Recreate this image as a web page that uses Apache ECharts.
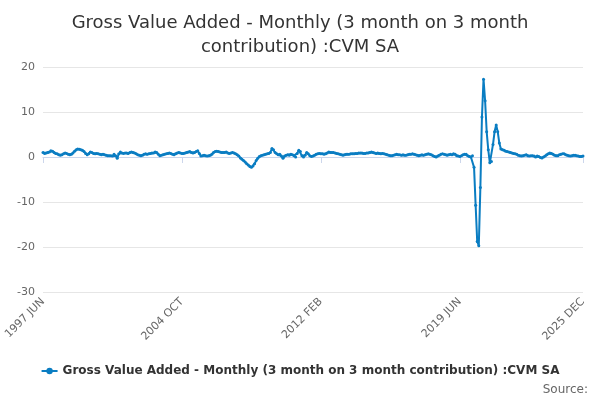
<!DOCTYPE html>
<html><head><meta charset="utf-8">
<script src="https://cdn.jsdelivr.net/npm/echarts@6/dist/echarts.min.js"></script>
<style>html,body{margin:0;padding:0}#c{width:600px;height:400px}</style>
</head><body><div id="c"></div>
<script>
const startYear = 1997, startMonth = 5; // June
const monthNames = ['JAN','FEB','MAR','APR','MAY','JUN','JUL','AUG','SEP','OCT','NOV','DEC'];
const shownLabels = ['1997 JUN','2004 OCT','2012 FEB','2019 JUN','2025 DEC'];
const values = [
1.0,0.8,0.9,1.0,1.1,1.4,1.3,
1.0,0.8,0.7,0.5,0.4,0.5,0.7,0.9,0.8,0.6,0.5,0.6,
0.9,1.3,1.6,1.8,1.7,1.6,1.5,1.2,0.8,0.5,0.7,1.1,
1.0,0.8,0.7,0.8,0.7,0.6,0.5,0.6,0.5,0.4,0.3,0.3,
0.3,0.2,0.6,0.3,-0.3,0.7,1.1,0.9,0.8,0.9,0.9,0.8,
1.0,1.1,1.0,0.9,0.7,0.5,0.4,0.3,0.4,0.6,0.7,0.6,
0.7,0.8,0.9,0.9,1.1,1.0,0.6,0.3,0.4,0.5,0.6,0.7,
0.8,0.9,0.8,0.6,0.5,0.7,0.9,1.0,0.9,0.8,0.8,0.9,
1.0,1.1,1.2,1.0,0.9,1.0,1.2,1.4,0.8,0.2,0.3,0.4,
0.3,0.2,0.3,0.4,0.6,1.0,1.2,1.3,1.2,1.1,1.0,1.0,
1.0,1.1,0.9,0.8,0.9,1.0,0.9,0.7,0.5,0.2,-0.2,-0.5,
-0.8,-1.1,-1.5,-1.8,-2.1,-2.3,-2.0,-1.5,-0.8,-0.3,0.1,0.3,
0.4,0.5,0.6,0.7,0.8,1.0,1.9,1.6,1.0,0.7,0.5,0.6,
0.2,-0.3,0.2,0.4,0.5,0.4,0.6,0.5,0.3,0.0,0.8,1.5,
1.2,0.3,0.0,0.4,1.0,0.7,0.3,0.1,0.2,0.4,0.6,0.7,
0.8,0.7,0.7,0.6,0.7,0.9,1.1,1.0,1.0,1.0,0.9,0.8,
0.7,0.6,0.5,0.4,0.5,0.6,0.6,0.6,0.7,0.7,0.7,0.8,
0.8,0.9,0.9,0.9,0.8,0.8,0.9,0.9,1.0,1.1,1.0,0.9,
0.8,0.9,0.8,0.7,0.8,0.7,0.6,0.5,0.4,0.3,0.3,0.4,
0.5,0.6,0.5,0.5,0.4,0.5,0.4,0.4,0.5,0.6,0.6,0.7,
0.6,0.5,0.4,0.3,0.4,0.5,0.4,0.5,0.6,0.7,0.6,0.5,
0.3,0.1,0.0,0.2,0.4,0.6,0.7,0.6,0.5,0.4,0.5,0.6,
0.5,0.7,0.6,0.3,0.2,0.1,0.3,0.5,0.6,0.6,0.3,0.1,
0.0,0.3,-2.3,-10.7,-18.8,-19.7,-6.8,8.9,17.3,12.5,5.6,1.6,
-1.3,-1.0,2.8,5.6,7.1,5.6,3.1,1.8,1.6,1.5,1.3,1.2,
1.1,1.0,0.9,0.8,0.7,0.6,0.4,0.3,0.2,0.3,0.4,0.5,
0.3,0.2,0.3,0.3,0.2,0.0,0.2,0.1,-0.1,-0.2,0.0,0.2,
0.5,0.7,0.9,0.8,0.6,0.4,0.3,0.3,0.5,0.6,0.7,0.7,
0.5,0.4,0.3,0.2,0.3,0.4,0.4,0.3,0.2,0.1,0.1,0.2
];
const categories = values.map((v,i)=>{const m=startMonth+i;return (startYear+Math.floor(m/12))+' '+monthNames[m%12];});
const seriesName = 'Gross Value Added - Monthly (3 month on 3 month contribution) :CVM SA';
const chart = echarts.init(document.getElementById('c'));
const show = (i)=>shownLabels.includes(categories[i]);
chart.setOption({
  animation:false,
  title:{text:'Gross Value Added - Monthly (3 month on 3 month\ncontribution) :CVM SA',left:'center',top:6,
    textStyle:{fontFamily:'DejaVu Sans',fontSize:18,fontWeight:'normal',color:'#333',lineHeight:24}},
  grid:{left:43,right:17,top:67,bottom:108},
  xAxis:{type:'category',data:categories,boundaryGap:false,
    axisLine:{lineStyle:{color:'#ccd6eb'}},
    axisTick:{interval:show,length:6,lineStyle:{color:'#ccd6eb'}},
    axisLabel:{interval:show,rotate:45,color:'#666',fontFamily:'DejaVu Sans',fontSize:11}},
  yAxis:{type:'value',min:-30,max:20,interval:10,
    axisLabel:{color:'#666',fontFamily:'DejaVu Sans',fontSize:11},
    splitLine:{lineStyle:{color:'#e6e6e6'}}},
  legend:{bottom:18,left:'center',itemWidth:16,itemHeight:8,
    textStyle:{fontFamily:'DejaVu Sans',fontSize:12,fontWeight:'bold',color:'#333'}},
  graphic:[{type:'text',right:12,bottom:4,style:{text:'Source:',fontFamily:'DejaVu Sans',fontSize:12,fill:'#666'}}],
  series:[{name:seriesName,type:'line',data:values,color:'#0a7dc2',symbol:'circle',symbolSize:3,showAllSymbol:true,
    lineStyle:{width:2}}]
});
</script></body></html>
